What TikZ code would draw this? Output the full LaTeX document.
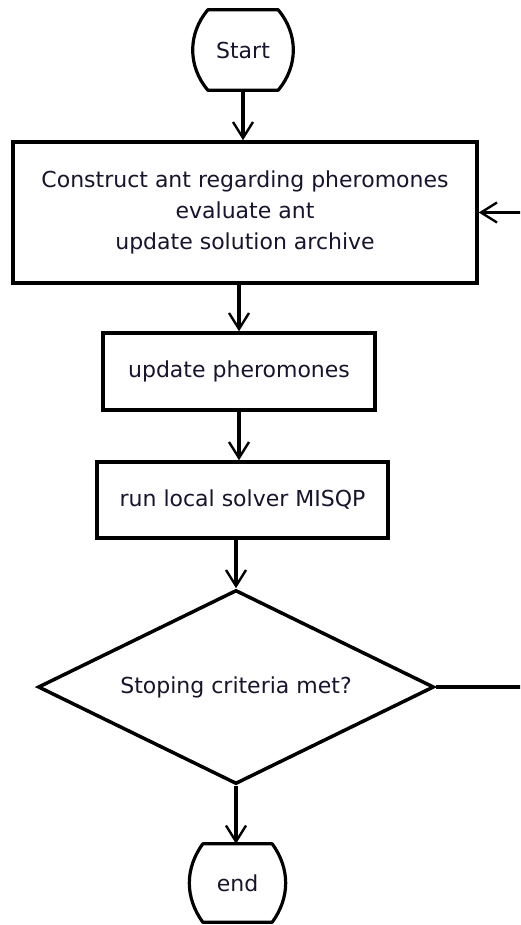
\documentclass[tikz,border=0pt]{standalone}
\usepackage{fontspec}
\setmainfont{DejaVu Sans}
\usetikzlibrary{arrows.meta,shapes.geometric}
\definecolor{ink}{RGB}{25,20,45}

\begin{document}
\begin{tikzpicture}[x=1pt,y=-1pt,
  every node/.style={font=\fontsize{22}{31}\selectfont, text=ink},
  frame/.style={draw, line width=3.5pt, inner sep=0pt},
  terminal/.style={inner sep=0pt},
  decision/.style={diamond, draw, line width=3.5pt, inner sep=0pt, aspect=2},
  outline/.style={line width=3.2pt, line join=round},
  flow/.style={line width=3.2pt, -{Straight Barb[length=16pt,width=20pt,line width=2.4pt]}},
]
% canvas
\path[use as bounding box, fill=white] (0,0) rectangle (520,925);
\clip (0,0) rectangle (520,925);

% nodes
\node[terminal, minimum width=70pt, minimum height=80pt] (start) at (243,50) {Start};
\node[frame, minimum width=464pt, minimum height=141pt, align=center] (build) at (245,212.5)
  {Construct ant regarding pheromones\\evaluate ant\\update solution archive};
\node[frame, minimum width=272pt, minimum height=77pt] (pher) at (239,371.5) {update pheromones};
\node[frame, minimum width=291pt, minimum height=76pt] (solver) at (242.5,500) {run local solver MISQP};
\node[decision, minimum width=396pt, minimum height=194pt] (stop) at (236,687) {Stoping criteria met?};
\node[terminal, minimum width=69pt, minimum height=78pt] (finish) at (237.5,883) {end};

% barrel outlines of the terminal nodes
\draw[outline] (start.north west) -- (start.north east) to[bend left=40] (start.south east)
  -- (start.south west) to[bend left=40] (start.north west) -- cycle;
\draw[outline] (finish.north west) -- (finish.north east) to[bend left=36] (finish.south east)
  -- (finish.south west) to[bend left=36] (finish.north west) -- cycle;

% connectors
\draw[flow] (start.south) -- (start.south |- build.north);
\draw[flow] (pher.north |- build.south) -- (pher.north);
\draw[flow] (pher.south) -- (pher.south |- solver.north);
\draw[flow] (stop.north |- solver.south) -- (stop.north);
\draw[flow] (stop.south) -- (stop.south |- finish.north);
\coordinate (loop) at (545,687);
\draw[flow] (stop.east) -- (loop) |- (build.east);
\end{tikzpicture}
\end{document}
